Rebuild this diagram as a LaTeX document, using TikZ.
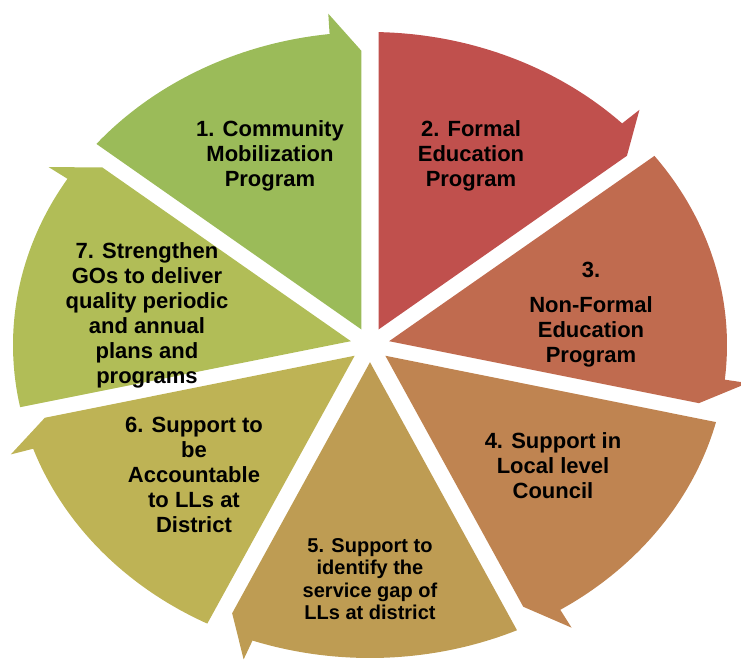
\documentclass[tikz,border=0pt]{standalone}
\usepackage{fontspec}
\setmainfont{Liberation Sans}
\usetikzlibrary{calc}

\definecolor{c1}{RGB}{155,187,89}
\definecolor{c2}{RGB}{192,80,77}
\definecolor{c3}{RGB}{192,107,79}
\definecolor{c4}{RGB}{191,132,81}
\definecolor{c5}{RGB}{190,156,83}
\definecolor{c6}{RGB}{190,179,85}
\definecolor{c7}{RGB}{177,189,87}

\begin{document}
\begin{tikzpicture}[x=1pt, y=1pt,
    txt/.style={align=center, text=black, font=\bfseries\fontsize{22}{25}\selectfont}]
      \useasboundingbox (-370,-320) rectangle (371,345);

      % sectors, clockwise from the top
      \begin{scope}[xscale=357, yscale=313]
        \foreach \k/\col in {1/c1, 2/c2, 3/c3, 4/c4, 5/c5, 6/c6, 7/c7} {
          \pgfmathsetmacro{\e}{90-360/7*(\k-1)}
          \pgfmathsetmacro{\s}{\e+360/7}
          \fill[\col] (\s-1.4:1) arc[start angle=\s-1.4, end angle=\e+6.5, radius=1]
            -- (\e+6.3:1.065) -- (\e+1.46:0.94) -- (\e+180/7:0.055) -- cycle;
        }
      \end{scope}

      \node[txt] (t1) at (-100,189) {1. Community\\Mobilization\\Program};
      \node[txt] (t2) at (101,189) {2. Formal\\Education\\Program};
      \node[txt] (t3) at (221,30.5) {3.\\[10pt]Non-Formal\\Education\\Program};
      \node[txt] (t4) at (183,-121) {4. Support in\\Local level\\Council};
      \node[txt, font=\bfseries\fontsize{20}{22.5}\selectfont] (t5) at (0,-234)
        {5. Support to\\identify the\\service gap of\\LLs at district};
      \node[txt] (t6) at (-176,-130) {6. Support to\\be\\Accountable\\to LLs at\\District};
      \node[txt] (t7) at (-223,30) {7. Strengthen\\GOs to deliver\\quality periodic\\and annual\\plans and\\programs};
    \end{tikzpicture}
\end{document}
